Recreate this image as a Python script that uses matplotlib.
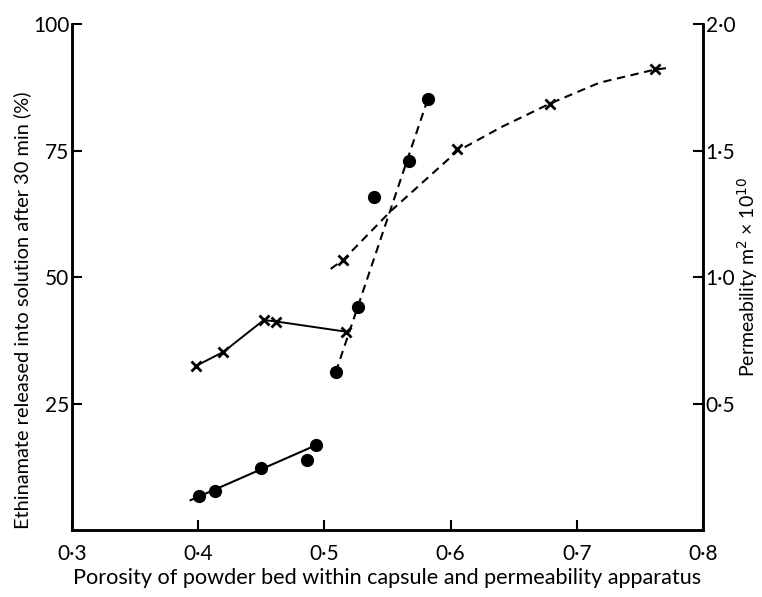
import matplotlib
matplotlib.use("Agg")
import matplotlib.pyplot as plt

# ---- data ----
# Release (%) - filled circles, left axis
rel_low_x = [0.401, 0.413, 0.450, 0.486, 0.493]
rel_low_y = [6.7, 7.8, 12.2, 13.8, 16.8]
rel_low_fit_x = [0.394, 0.491]
rel_low_fit_y = [5.9, 16.5]

rel_high_x = [0.509, 0.527, 0.539, 0.567, 0.582]
rel_high_y = [31.2, 44.0, 65.9, 73.0, 85.2]
rel_high_fit_x = [0.509, 0.582]
rel_high_fit_y = [31.2, 85.2]

# Permeability (m^2 x 10^10) - crosses, right axis
perm_low_x = [0.398, 0.420, 0.452, 0.462, 0.517]
perm_low_y = [0.648, 0.704, 0.830, 0.824, 0.784]

perm_high_x = [0.515, 0.605, 0.679, 0.762]
perm_high_y = [1.068, 1.504, 1.682, 1.824]
perm_curve_x = [0.505, 0.515, 0.5525, 0.605, 0.640, 0.679, 0.718, 0.762, 0.772]
perm_curve_y = [1.032, 1.068, 1.260, 1.496, 1.592, 1.686, 1.768, 1.820, 1.826]

xticks = [0.3, 0.4, 0.5, 0.6, 0.7, 0.8]
xtick_labels = ["0·3", "0·4", "0·5", "0·6", "0·7", "0·8"]
lticks = [25, 50, 75, 100]
lticks_labels = ["25", "50", "75", "100"]
rticks = [0.5, 1.0, 1.5, 2.0]
rticks_labels = ["0·5", "1·0", "1·5", "2·0"]

plt.rcParams['font.family'] = ['Lato', 'DejaVu Sans']

fig = plt.figure(figsize=(7.62, 5.97), dpi=100)
ax = fig.add_axes([0.0945, 0.1122, 0.828, 0.8476])
ax2 = ax.twinx()

dash = (0, (4, 2.7))
ax.plot(rel_low_fit_x, rel_low_fit_y, color='black', lw=1.5)
ax.plot(rel_low_x, rel_low_y, 'o', color='black', ms=8.5)
ax.plot(rel_high_fit_x, rel_high_fit_y, color='black', lw=1.5, linestyle=dash)
ax.plot(rel_high_x, rel_high_y, 'o', color='black', ms=8.5)

ax2.plot(perm_low_x, perm_low_y, color='black', lw=1.4)
ax2.plot(perm_low_x, perm_low_y, 'x', color='black', ms=7, mew=2)
ax2.plot(perm_curve_x, perm_curve_y, color='black', lw=1.5, linestyle=dash)
ax2.plot(perm_high_x, perm_high_y, 'x', color='black', ms=7, mew=2)

ax.set_xlim(0.3, 0.8)
ax.set_ylim(0, 100)
ax2.set_ylim(0, 2.0)

for a in (ax, ax2):
    a.spines['top'].set_visible(False)
    for s in ('left', 'right', 'bottom'):
        a.spines[s].set_linewidth(1.8)

ax.set_xticks(xticks)
ax.set_xticklabels(xtick_labels, fontsize=15)
ax.set_yticks(lticks)
ax.set_yticklabels(lticks_labels, fontsize=15)
ax2.set_yticks(rticks)
ax2.set_yticklabels(rticks_labels, fontsize=15)

ax.tick_params(axis='x', direction='in', length=7, width=1.5, pad=10)
ax.tick_params(axis='y', direction='in', length=7, width=1.5, pad=2)
ax2.tick_params(axis='y', direction='in', length=7, width=1.5, pad=2)

ax.set_xlabel("Porosity of powder bed within capsule and permeability apparatus",
              fontsize=15.6)
ax.set_ylabel("Ethinamate released into solution after 30 min (%)", fontsize=14.4)
ax2.set_ylabel("Permeability m$^2$ × 10$^{10}$", fontsize=14)

ax.xaxis.label.set(va='center', ha='center')
ax.xaxis.set_label_coords(0.5, -0.095)
ax.yaxis.label.set(va='center', ha='center', rotation_mode='default')
ax.yaxis.set_label_coords(-0.079, 0.435)
ax2.yaxis.label.set(va='center', ha='center', rotation_mode='default', rotation=90)
ax2.yaxis.set_label_coords(1.07, 0.50)

fig.savefig("out.png", dpi=100)
